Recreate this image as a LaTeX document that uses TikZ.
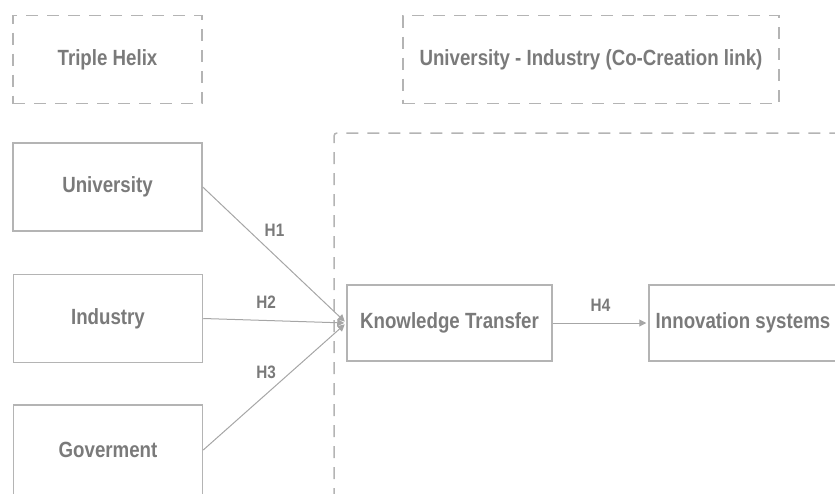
\documentclass[tikz,border=0pt]{standalone}
\usepackage{fontspec}
\setmainfont{Liberation Sans}[FakeStretch=0.85]
\usetikzlibrary{positioning, arrows.meta}
\definecolor{boxgray}{HTML}{B4B4B4}
\definecolor{linegray}{HTML}{A6A6A6}
\definecolor{textgray}{HTML}{7A7A7A}

\begin{document}
\begin{tikzpicture}
            [x=1pt, y=-1pt,
             box/.style={draw=boxgray, line width=1.5pt, minimum width=189pt, minimum height=88pt,
                         inner sep=0pt, text=textgray, font=\fontsize{22}{26}\selectfont\bfseries},
             group/.style={box, dash pattern=on 12pt off 9pt},
             hlabel/.style={text=textgray, inner sep=0pt, font=\fontsize{18}{20}\selectfont\bfseries},
             conn/.style={draw=linegray, line width=1pt},
             shorten >=2pt, >={Triangle[length=7pt, width=7pt]}]
            \useasboundingbox (0,0) rectangle (835,493);

            \node[group] (helix) at (107.5,59.5) {Triple Helix};
            \node[group, minimum width=376pt] (colink) at (591,59.5) {University - Industry (Co-Creation link)};
            \draw[boxgray, line width=1.5pt, dash pattern=on 12pt off 9pt, rounded corners=3pt]
                (334,500) -- (334,133) -- (850,133);

            \node[box] (uni) at (107.5,187) {University};
            \node[box] (ind) at (108,318.5) {Industry};
            \node[box, minimum height=90pt] (gov) at (108,450) {Goverment};
            \node[box, minimum width=205pt, minimum height=76pt] (kt) at (449.5,323) {Knowledge Transfer};
            \node[box, minimum width=188pt, minimum height=76pt] (inno) at (743,323) {Innovation systems};

            \path [->] (uni.east) edge[conn] node[hlabel, midway, above=18pt] {H1} (kt.west);
            \path [->] (ind.east) edge[conn] node[hlabel, pos=0.44, above=11pt] {H2} (kt.west);
            \path [->] (gov.east) edge[conn] node[hlabel, pos=0.44, above=15pt] {H3} (kt.west);
            \path [->] (kt.east) edge[conn] node[hlabel, midway, above=11pt] {H4} (inno.west);
        \end{tikzpicture}
\end{document}
